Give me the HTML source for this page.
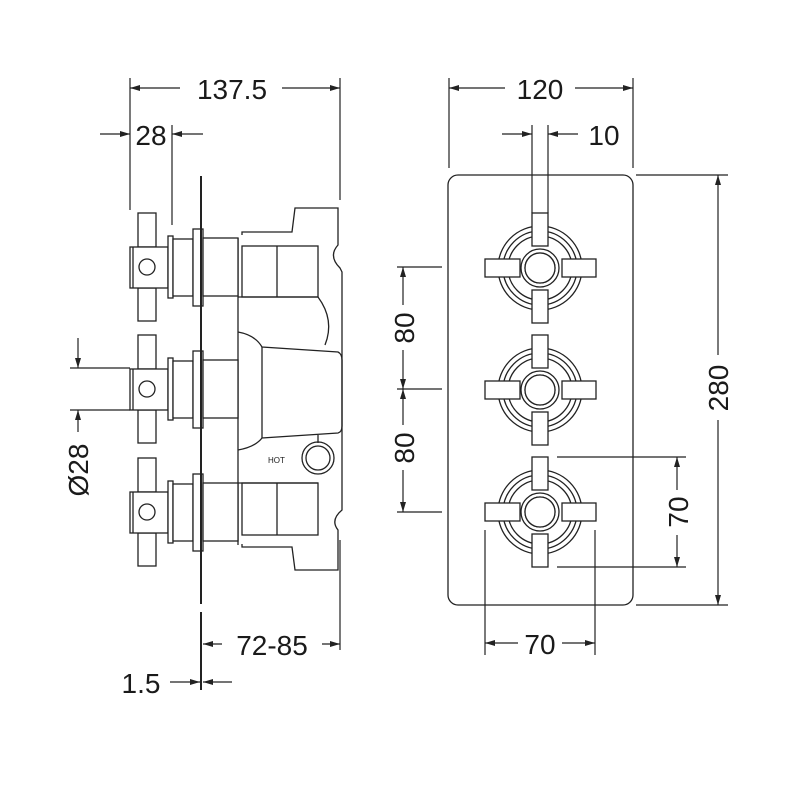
<!DOCTYPE html>
<html><head><meta charset="utf-8"><style>
html,body{margin:0;padding:0;background:#fff}
svg{display:block}
text{font-family:"Liberation Sans",sans-serif;fill:#1a1a1a}
</style></head><body>
<svg width="800" height="800" viewBox="0 0 800 800" xmlns="http://www.w3.org/2000/svg">
<defs>
<marker id="a" viewBox="0 0 10 6" refX="10" refY="3" markerWidth="10" markerHeight="6" markerUnits="userSpaceOnUse" orient="auto"><path d="M0,0L10,3L0,6z" fill="#222"/></marker>
<g id="side">
  <rect x="138" y="-54" width="18" height="34" fill="#fff"/>
  <rect x="138" y="21" width="18" height="33" fill="#fff"/>
  <rect x="130" y="-20" width="38" height="41" fill="#fff"/>
  <line x1="133" y1="-20" x2="133" y2="21"/>
  <circle cx="147" cy="0" r="8"/>
  <rect x="168" y="-31" width="5" height="62" fill="#fff"/>
  <rect x="173" y="-28" width="20" height="57" fill="#fff"/>
  <rect x="193" y="-38" width="10" height="77" fill="#fff"/>
  <rect x="203" y="-29" width="35" height="58" fill="#fff"/>
</g>
<g id="front">
  <circle r="42"/><circle r="37"/><circle r="32"/><circle r="19"/><circle r="15"/>
  <rect x="-8" y="-55" width="16" height="33" fill="#fff"/>
  <rect x="-8" y="22" width="16" height="33" fill="#fff"/>
  <rect x="-55" y="-9" width="35" height="18" fill="#fff"/>
  <rect x="22" y="-9" width="34" height="18" fill="#fff"/>
  <circle r="15" fill="#fff"/>
</g>
</defs>

<g stroke="#222" stroke-width="1.3" fill="none">
  <path d="M242,235 L242,232 L292,232 L295,208 L338,208 L338,245 Q328,256 340,268 L342,272 L342,510 Q330,520 338,530 L338,570 L295,570 L292,547 L242,547 L242,544"/>
  <line x1="238" y1="238" x2="238" y2="545"/>
  <rect x="242" y="246" width="76" height="51"/>
  <line x1="277" y1="246" x2="277" y2="297"/>
  <rect x="242" y="483" width="76" height="52"/>
  <line x1="277" y1="483" x2="277" y2="535"/>
  <line x1="238" y1="297" x2="318" y2="297"/>
  <line x1="238" y1="483" x2="318" y2="483"/>
  <path d="M318,297 Q335,320 325,345"/>
  <path d="M238,332 Q255,335 262,347 L338,352 Q342,354 342,360 L342,426 Q342,432 338,433 L262,438 Q255,447 238,450"/>
  <line x1="262" y1="347" x2="262" y2="438"/>
  <line x1="318" y1="435" x2="318" y2="443"/>
  <circle cx="318" cy="458" r="16"/><circle cx="318" cy="458" r="12"/>
  <line x1="201" y1="176" x2="201" y2="604" stroke-width="2"/>
  <line x1="201" y1="612" x2="201" y2="690" stroke-width="2"/>
  <use href="#side" y="267"/>
  <use href="#side" y="389"/>
  <use href="#side" y="512"/>
  <line x1="201" y1="176" x2="201" y2="604" stroke-width="2"/>

  <rect x="448" y="175" width="185" height="430" rx="10"/>
  <use href="#front" x="540" y="268"/>
  <use href="#front" x="540" y="390"/>
  <use href="#front" x="540" y="512"/>
</g>
<text x="268" y="463" font-size="8">HOT</text>

<g stroke="#222" stroke-width="1.2" fill="none">
  <line x1="130" y1="78" x2="130" y2="210"/>
  <line x1="340" y1="78" x2="340" y2="200"/>
  <line x1="180" y1="88" x2="130" y2="88" marker-end="url(#a)"/>
  <line x1="282" y1="88" x2="340" y2="88" marker-end="url(#a)"/>
  <line x1="172" y1="125" x2="172" y2="225"/>
  <line x1="100" y1="134" x2="130" y2="134" marker-end="url(#a)"/>
  <line x1="203" y1="134" x2="172" y2="134" marker-end="url(#a)"/>
  <line x1="70" y1="368" x2="130" y2="368"/>
  <line x1="70" y1="410" x2="130" y2="410"/>
  <line x1="78" y1="338" x2="78" y2="368" marker-end="url(#a)"/>
  <line x1="78" y1="432" x2="78" y2="410" marker-end="url(#a)"/>
  <line x1="340" y1="540" x2="340" y2="650"/>
  <line x1="222" y1="644" x2="203" y2="644" marker-end="url(#a)"/>
  <line x1="322" y1="644" x2="340" y2="644" marker-end="url(#a)"/>
  <line x1="170" y1="682" x2="200" y2="682" marker-end="url(#a)"/>
  <line x1="232" y1="682" x2="203" y2="682" marker-end="url(#a)"/>

  <line x1="449" y1="78" x2="449" y2="168"/>
  <line x1="633" y1="78" x2="633" y2="168"/>
  <line x1="505" y1="88" x2="449" y2="88" marker-end="url(#a)"/>
  <line x1="575" y1="88" x2="633" y2="88" marker-end="url(#a)"/>
  <line x1="532" y1="125" x2="532" y2="213"/>
  <line x1="548" y1="125" x2="548" y2="213"/>
  <line x1="502" y1="134" x2="532" y2="134" marker-end="url(#a)"/>
  <line x1="578" y1="134" x2="548" y2="134" marker-end="url(#a)"/>
  <line x1="636" y1="175" x2="728" y2="175"/>
  <line x1="636" y1="605" x2="728" y2="605"/>
  <line x1="718" y1="355" x2="718" y2="175" marker-end="url(#a)"/>
  <line x1="718" y1="420" x2="718" y2="605" marker-end="url(#a)"/>
  <line x1="397" y1="267" x2="442" y2="267"/>
  <line x1="397" y1="389" x2="442" y2="389"/>
  <line x1="397" y1="512" x2="442" y2="512"/>
  <line x1="403" y1="305" x2="403" y2="267" marker-end="url(#a)"/>
  <line x1="403" y1="350" x2="403" y2="389" marker-end="url(#a)"/>
  <line x1="403" y1="425" x2="403" y2="389" marker-end="url(#a)"/>
  <line x1="403" y1="470" x2="403" y2="512" marker-end="url(#a)"/>
  <line x1="557" y1="457" x2="686" y2="457"/>
  <line x1="557" y1="567" x2="686" y2="567"/>
  <line x1="677" y1="490" x2="677" y2="457" marker-end="url(#a)"/>
  <line x1="677" y1="535" x2="677" y2="567" marker-end="url(#a)"/>
  <line x1="485" y1="530" x2="485" y2="655"/>
  <line x1="595" y1="530" x2="595" y2="655"/>
  <line x1="518" y1="643" x2="485" y2="643" marker-end="url(#a)"/>
  <line x1="562" y1="643" x2="595" y2="643" marker-end="url(#a)"/>
</g>

<g font-size="28" text-anchor="middle">
  <text x="232" y="99">137.5</text>
  <text x="151" y="145">28</text>
  <text x="272" y="655">72-85</text>
  <text x="141" y="693">1.5</text>
  <text x="540" y="99">120</text>
  <text x="604" y="145">10</text>
  <text x="540" y="654">70</text>
  <text transform="translate(88,470) rotate(-90)">Ø28</text>
  <text transform="translate(728,388) rotate(-90)">280</text>
  <text transform="translate(414,328) rotate(-90)">80</text>
  <text transform="translate(414,448) rotate(-90)">80</text>
  <text transform="translate(688,512) rotate(-90)">70</text>
</g>
</svg>
</body></html>
